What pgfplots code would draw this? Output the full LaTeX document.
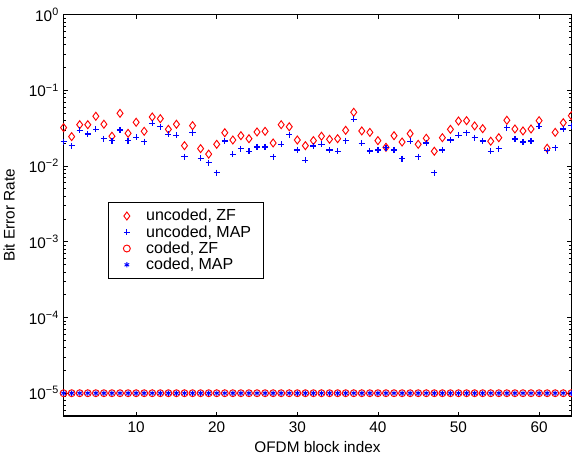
\documentclass[border=0pt]{standalone}
\usepackage{fontspec}
\setmainfont{Liberation Sans}
\usepackage{pgfplots}
\pgfplotsset{compat=1.18}

% wider legend images, mark centred in them (invisible box sets the width)
\pgfplotsset{
  mylegend/.style={legend image code/.code={
    \path[draw=none, fill=none] (-7pt,-3.5pt) rectangle (12.5pt,3.5pt);
    \draw[##1] plot coordinates {(0pt,0pt)};
  }},
}

% uncoded BER per OFDM block
\pgfplotstableread{
idx zf     map
1   0.0322 0.0210
2   0.0245 0.0186
3   0.0352 0.0297
4   0.0352 0.0265
5   0.0455 0.0306
6   0.0357 0.0230
7   0.0248 0.0217
8   0.0498 0.0300
9   0.0271 0.0217
10  0.0379 0.0240
11  0.0288 0.0210
12  0.0445 0.0367
13  0.0423 0.0331
14  0.0306 0.0263
15  0.0357 0.0255
16  0.0186 0.0133
17  0.0342 0.0276
18  0.0170 0.0127
19  0.0144 0.0111
20  0.0194 0.0082
21  0.0276 0.0215
22  0.0221 0.0143
23  0.0252 0.0170
24  0.0230 0.0157
25  0.0282 0.0179
26  0.0288 0.0179
27  0.0202 0.0133
28  0.0352 0.0194
29  0.0331 0.0260
30  0.0221 0.0163
31  0.0186 0.0119
32  0.0217 0.0184
33  0.0248 0.0194
34  0.0226 0.0163
35  0.0230 0.0157
36  0.0297 0.0217
37  0.0514 0.0415
38  0.0291 0.0200
39  0.0279 0.0158
40  0.0217 0.0163
41  0.0177 0.0175
42  0.0252 0.0163
43  0.0208 0.0125
44  0.0268 0.0213
45  0.0194 0.0133
46  0.0233 0.0202
47  0.0157 0.0082
48  0.0237 0.0163
49  0.0306 0.0221
50  0.0394 0.0255
51  0.0398 0.0276
52  0.0339 0.0237
53  0.0312 0.0215
54  0.0213 0.0157
55  0.0237 0.0170
56  0.0403 0.0322
57  0.0309 0.0228
58  0.0291 0.0208
59  0.0309 0.0215
60  0.0398 0.0336
61  0.0172 0.0160
62  0.0279 0.0175
63  0.0374 0.0309
64  0.0463 0.0340
}\uncoded

% coded BER (floor value shown for every block)
\pgfplotstableread{
idx zf   map
1  1e-5 1e-5
2  1e-5 1e-5
3  1e-5 1e-5
4  1e-5 1e-5
5  1e-5 1e-5
6  1e-5 1e-5
7  1e-5 1e-5
8  1e-5 1e-5
9  1e-5 1e-5
10 1e-5 1e-5
11 1e-5 1e-5
12 1e-5 1e-5
13 1e-5 1e-5
14 1e-5 1e-5
15 1e-5 1e-5
16 1e-5 1e-5
17 1e-5 1e-5
18 1e-5 1e-5
19 1e-5 1e-5
20 1e-5 1e-5
21 1e-5 1e-5
22 1e-5 1e-5
23 1e-5 1e-5
24 1e-5 1e-5
25 1e-5 1e-5
26 1e-5 1e-5
27 1e-5 1e-5
28 1e-5 1e-5
29 1e-5 1e-5
30 1e-5 1e-5
31 1e-5 1e-5
32 1e-5 1e-5
33 1e-5 1e-5
34 1e-5 1e-5
35 1e-5 1e-5
36 1e-5 1e-5
37 1e-5 1e-5
38 1e-5 1e-5
39 1e-5 1e-5
40 1e-5 1e-5
41 1e-5 1e-5
42 1e-5 1e-5
43 1e-5 1e-5
44 1e-5 1e-5
45 1e-5 1e-5
46 1e-5 1e-5
47 1e-5 1e-5
48 1e-5 1e-5
49 1e-5 1e-5
50 1e-5 1e-5
51 1e-5 1e-5
52 1e-5 1e-5
53 1e-5 1e-5
54 1e-5 1e-5
55 1e-5 1e-5
56 1e-5 1e-5
57 1e-5 1e-5
58 1e-5 1e-5
59 1e-5 1e-5
60 1e-5 1e-5
61 1e-5 1e-5
62 1e-5 1e-5
63 1e-5 1e-5
64 1e-5 1e-5
}\coded

\begin{document}
\begin{tikzpicture}
\begin{axis}[
  at={(0,0)}, anchor=south west,
  scale only axis,
  width=380.8pt, height=301pt,
  ymode=log,
  xmin=1, xmax=64,
  ymin=5e-6, ymax=1,
  xtick={10,20,30,40,50,60},
  ytick={1e-5,1e-4,1e-3,1e-2,1e-1,1},
  yticklabels={10\textsuperscript{−5},10\textsuperscript{−4},10\textsuperscript{−3},
               10\textsuperscript{−2},10\textsuperscript{−1},10\textsuperscript{0}},
  minor ytick={6e-6,7e-6,8e-6,9e-6,
               2e-5,3e-5,4e-5,5e-5,6e-5,7e-5,8e-5,9e-5,
               2e-4,3e-4,4e-4,5e-4,6e-4,7e-4,8e-4,9e-4,
               2e-3,3e-3,4e-3,5e-3,6e-3,7e-3,8e-3,9e-3,
               2e-2,3e-2,4e-2,5e-2,6e-2,7e-2,8e-2,9e-2,
               0.2,0.3,0.4,0.5,0.6,0.7,0.8,0.9},
  /pgf/number format/assume math mode=true,
  tick label style={font=\fontsize{11.5}{13}\selectfont},
  xticklabel style={yshift=-1pt},
  label style={font=\fontsize{11.5}{13}\selectfont},
  tick align=inside,
  major tick length=3pt,
  minor tick length=1.6pt,
  tick style={black, line width=0.6pt},
  axis line style={line width=0.8pt},
  xlabel={OFDM block index},
  ylabel={Bit Error Rate},
  xlabel style={at={(axis description cs:0.5,-0.0772)}, anchor=center},
  ylabel style={at={(axis description cs:-0.1074,0.5)}, anchor=center},
  legend cell align=left,
  legend style={at={(axis description cs:0.0873,0.5325)}, anchor=north west,
                draw=black, fill=white,
                font=\fontsize{12}{14}\selectfont,
                inner xsep=7pt, inner ysep=3pt,
                column sep=0pt, row sep=-2pt},
]
  \addplot[only marks, color=red, mark=diamond, mark size=3pt,
           mark options={line width=0.7pt}, mylegend]
    table[x=idx, y=zf] {\uncoded};
  \addlegendentry{uncoded, ZF}

  \addplot[only marks, color=blue, mark=+, mark size=2.3pt,
           mark options={line width=0.9pt}, mylegend]
    table[x=idx, y=map] {\uncoded};
  \addlegendentry{uncoded, MAP}

  \addplot[only marks, color=red, mark=o, mark size=2.6pt,
           mark options={line width=0.7pt}, mylegend]
    table[x=idx, y=zf] {\coded};
  \addlegendentry{coded, ZF}

  \addplot[only marks, color=blue, mark=asterisk, mark size=2pt,
           mark options={line width=0.7pt}, mylegend]
    table[x=idx, y=map] {\coded};
  \addlegendentry{coded, MAP}
\end{axis}
\pgfresetboundingbox
\path[use as bounding box] (-47.7pt,-32.25pt) rectangle (381.3pt,312pt);
\end{tikzpicture}
\end{document}
